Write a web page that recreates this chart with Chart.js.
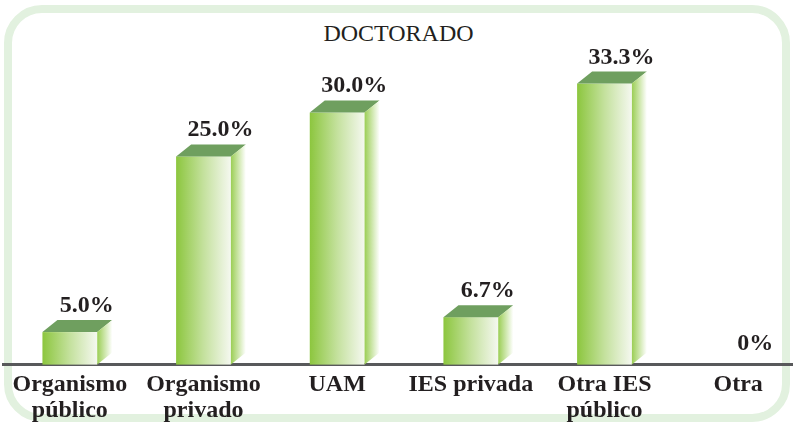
<!DOCTYPE html>
<html>
<head>
<meta charset="utf-8">
<script src="https://cdn.jsdelivr.net/npm/chart.js@4"></script>
<style>
  html, body { margin: 0; padding: 0; background: #fff; overflow: hidden; width: 793px; height: 425px; }
  #frame {
    position: absolute; left: 4px; top: 5px; width: 786px; height: 417px;
    box-sizing: border-box; border: 8px solid #e2f1df; border-radius: 38px;
  }
  #title {
    position: absolute; left: 0; top: 21px; width: 797px; text-align: center;
    font: 24px/24px "Liberation Serif", serif; color: #231f20;
  }
  #wrap { position: absolute; left: 0; top: 0; width: 793px; height: 425px; overflow: hidden; }
</style>
</head>
<body>
<div id="frame"></div>
<div id="title">DOCTORADO</div>
<div id="wrap"><canvas id="chart" width="805" height="425"></canvas></div>
<script>
// chart data
const categories = [["Organismo", "público"], ["Organismo", "privado"], "UAM", "IES privada", ["Otra IES", "público"], "Otra"];
const values = [5.0, 25.0, 30.0, 6.7, 33.3, 0];
const valueLabels = ["5.0%", "25.0%", "30.0%", "6.7%", "33.3%", "0%"];

const Y_MIN = 1.3;
const Y_MAX = 37;
const BAR_FRACTION = 0.41;
const DEPTH_X = 15;
const DEPTH_Y = 12;
const TEXT_COLOR = "#231f20";

// paints each bar as a little 3D box, using the bar elements Chart.js laid out
const cubePlugin = {
  id: "cube",
  afterDatasetsDraw(chart) {
    const c = chart.ctx;
    const area = chart.chartArea;
    chart.getDatasetMeta(0).data.forEach((bar, i) => {
      const left = bar.x - bar.width / 2;
      const right = bar.x + bar.width / 2;
      const top = bar.y;
      const base = bar.base;
      c.save();
      if (values[i] > Y_MIN) {
        // front face
        const gf = c.createLinearGradient(left, 0, right, 0);
        gf.addColorStop(0, "#8cc63e");
        gf.addColorStop(0.5, "#c4e19d");
        gf.addColorStop(1, "#f5f8f0");
        c.fillStyle = gf;
        c.fillRect(left, top, right - left, base - top);

        // top face
        c.beginPath();
        c.moveTo(left, top);
        c.lineTo(left + DEPTH_X, top - DEPTH_Y);
        c.lineTo(right + DEPTH_X, top - DEPTH_Y);
        c.lineTo(right, top);
        c.closePath();
        c.fillStyle = "#6f9f5f";
        c.fill();

        // side face
        const gs = c.createLinearGradient(right, 0, right + DEPTH_X, 0);
        gs.addColorStop(0, "#9bce55");
        gs.addColorStop(1, "#ffffff");
        c.beginPath();
        c.moveTo(right, top);
        c.lineTo(right + DEPTH_X, top - DEPTH_Y);
        c.lineTo(right + DEPTH_X, base - DEPTH_Y);
        c.lineTo(right, base);
        c.closePath();
        c.fillStyle = gs;
        c.fill();
      }
      c.font = 'bold 24px "Liberation Serif"';
      c.fillStyle = TEXT_COLOR;
      c.textAlign = "center";
      c.textBaseline = "alphabetic";
      const labelY = values[i] > Y_MIN ? top - 20 : area.bottom - 15;
      c.fillText(valueLabels[i], bar.x + 17, labelY);
      c.restore();
    });
  }
};

new Chart(document.getElementById("chart"), {
  type: "bar",
  data: {
    labels: categories,
    datasets: [{
      data: values,
      base: Y_MIN,
      backgroundColor: "rgba(0,0,0,0)",
      borderWidth: 0,
      categoryPercentage: 1,
      barPercentage: BAR_FRACTION
    }]
  },
  options: {
    responsive: false,
    animation: false,
    layout: { padding: { left: 3, right: 0, top: 51, bottom: -6 } },
    plugins: {
      legend: { display: false },
      title: { display: false },
      tooltip: { enabled: false }
    },
    scales: {
      x: {
        grid: { display: false, drawTicks: false },
        border: { display: true, color: "#58595b", width: 3 },
        ticks: {
          padding: 8,
          color: TEXT_COLOR,
          maxRotation: 0,
          autoSkip: false,
          font: { family: "Liberation Serif", size: 24, weight: "bold", lineHeight: 1.05 }
        }
      },
      y: {
        display: false,
        min: Y_MIN,
        max: Y_MAX
      }
    }
  },
  plugins: [cubePlugin]
});
</script>
</body>
</html>
